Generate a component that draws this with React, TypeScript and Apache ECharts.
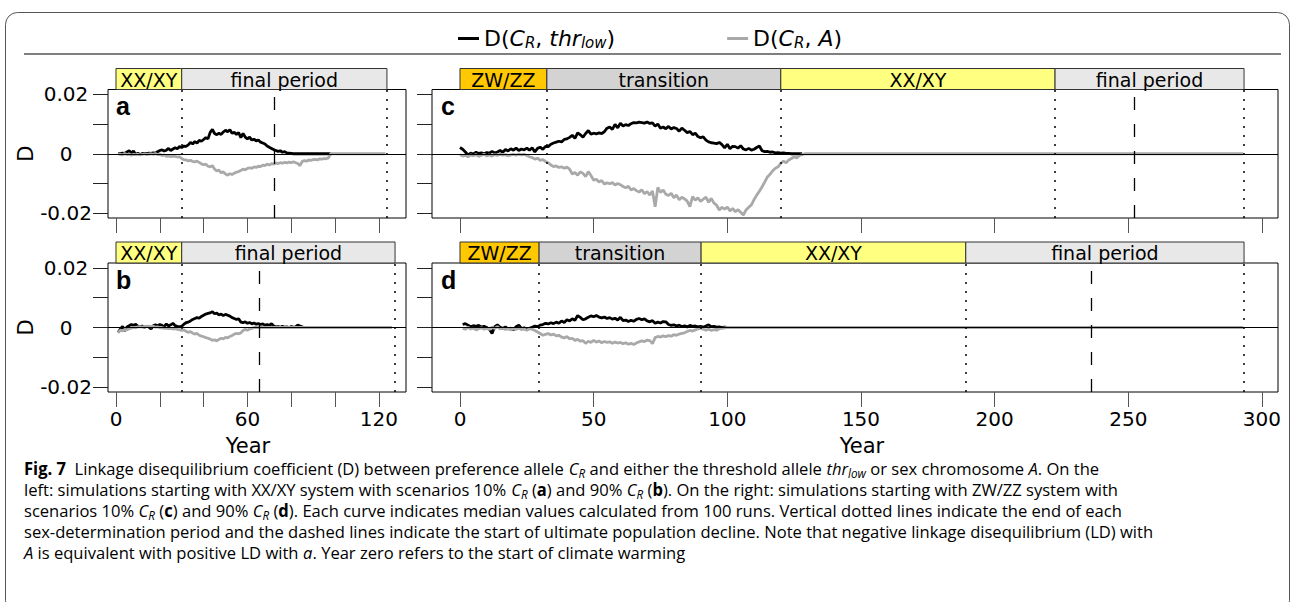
import { useEffect, useRef } from "react";
import * as echarts from "echarts";

const FONT = "DejaVu Sans";
const CAP_FONT = "Open Sans";
const LETTER_FONT = "Liberation Sans";

// ---- axes ----
const yTicks = [-0.02, -0.01, 0, 0.01, 0.02];
const yTickLabels = [-0.02, 0, 0.02];
const yLimits = [-0.0216, 0.0216];

const leftXTicks = [0, 20, 40, 60, 80, 100, 120];
const leftXTickLabels = [0, 60, 120];
const leftXLimits = [-3.65, 132.4];
const rightXTicks = [0, 50, 100, 150, 200, 250, 300];
const rightXTickLabels = [0, 50, 100, 150, 200, 250, 300];
const rightXLimits = [-10.47, 306.0];

// ---- sex-determination periods ----
const periodStartYear = 0;
const leftPeriodNames = ["XX/XY", "final period"];
const leftPeriodColors = ["#FFFF80", "#E8E8E8"];
const rightPeriodNames = ["ZW/ZZ", "transition", "XX/XY", "final period"];
const rightPeriodColors = ["#FFC800", "#D3D3D3", "#FFFF80", "#E8E8E8"];

const aPeriodEnds = [30, 123.7];
const bPeriodEnds = [30, 127.4];
const cPeriodEnds = [32.5, 120, 222.6, 293.3];
const dPeriodEnds = [29.6, 90.2, 189.2, 293.3];

const aDeclineYear = 72.1;
const bDeclineYear = 65.3;
const cDeclineYear = 252.1;
const dDeclineYear = 236;

// ---- median D values (in units of 0.001), one per year ----
const aThrFirstYear = 1;
const aThrLastYear = 98;
const aThr = [
  0.1, 0.0, 0.2, 0.1, 0.6, 1.0, 0.3, 0.9, -0.3, 0.2,
  -0.4, 0.1, 0.1, 0.0, 0.2, 0.1, 0.3, 0.2, 0.7, 1.1,
  1.3, 0.9, 1.2, 1.8, 1.1, 1.6, 2.0, 1.7, 2.4, 2.1,
  2.6, 2.5, 3.0, 3.8, 3.3, 4.1, 3.6, 4.5, 4.2, 4.8,
  5.4, 5.0, 7.2, 8.2, 6.8, 6.4, 6.9, 6.5, 7.3, 7.9,
  7.4, 8.1, 6.9, 7.2, 6.5, 7.1, 5.4, 6.8, 5.6, 5.0,
  5.6, 4.6, 4.9, 4.3, 4.6, 3.9, 3.6, 3.3, 2.6, 2.2,
  1.8, 1.4, 1.1, 0.8, 1.0, 0.5, 0.7, 0.3, 0.2, 0.1, 0.0,
];
const aAFirstYear = 1;
const aALastYear = 123;
const aA = [
  0.0, -0.2, -0.4, 0.1, -0.3, -0.1, -0.5, -0.2, -0.3, -0.1,
  -0.4, -0.2, 0.0, -0.3, -0.1, 0.0, -0.2, 0.1, -0.3, -0.2,
  -0.6, -0.4, -0.9, -0.7, -1.0, -0.8, -0.9, -1.1, -1.0, -1.6,
  -2.0, -2.1, -2.4, -2.2, -2.6, -2.7, -2.5, -2.9, -3.4, -3.7,
  -3.5, -4.2, -4.4, -4.0, -5.1, -5.8, -5.5, -6.4, -6.1, -6.8,
  -7.2, -6.7, -7.0, -6.5, -6.2, -6.0, -5.6, -5.2, -5.4, -4.9,
  -4.7, -4.9, -4.4, -4.6, -4.2, -4.3, -3.8, -4.0, -3.5, -3.8,
  -3.3, -3.5, -3.1, -3.3, -3.0, -3.2, -2.9, -3.1, -2.8, -3.0,
  -2.7, -3.0, -3.3, -4.0, -2.6, -2.3, -2.5, -2.1, -2.2, -2.0,
  -1.9, -2.1, -1.7, -1.8, -1.6, -1.7, -1.4, 0.0,
];

const bThrFirstYear = 1;
const bThrLastYear = 98;
const bThr = [
  -1.7, -0.5, 0.4, -1.1, 0.2, 0.6, 1.0, 0.7, 1.1, 0.4,
  0.3, 0.5, 0.1, 0.4, 0.2, -0.5, 0.6, 0.9, 0.5, 1.0,
  0.7, 0.3, 1.2, 0.5, 0.9, 1.4, 0.6, 0.4, 0.3, 0.4,
  1.1, 1.6, 1.8, 2.2, 2.7, 3.0, 3.3, 3.1, 3.7, 4.1,
  4.5, 4.7, 4.9, 5.3, 4.6, 4.8, 4.2, 4.5, 4.0, 4.4,
  4.1, 3.8, 3.3, 3.0, 2.7, 2.9, 1.8, 1.6, 1.9, 1.4,
  1.7, 1.2, 1.5, 1.1, 1.3, 1.0, 1.2, 0.8, 1.0, 0.7,
  1.3, 0.5, 0.2, 0.3, 0.1, 0.4, 0.1, 0.2, 0.0, 0.3,
  0.1, 0.2, 0.8, 0.5, 0.2, 0.0,
];
const bAFirstYear = 1;
const bALastYear = 126;
const bA = [
  -1.7, -0.9, -1.1, -0.6, -0.8, -0.4, -0.2, 0.0, -0.1, 0.2,
  0.3, 0.1, 0.4, 0.3, 0.5, 0.2, 0.4, 0.1, 0.2, -0.1,
  0.0, -0.3, -0.2, -0.4, -0.3, -0.5, -0.4, -0.6, -0.7, -1.0,
  -0.8, -1.3, -1.6, -1.4, -1.9, -2.2, -2.0, -2.6, -2.9, -3.1,
  -3.4, -3.6, -3.9, -4.3, -4.1, -4.5, -4.0, -3.6, -3.8, -3.3,
  -3.5, -3.0, -2.7, -2.2, -2.0, -2.1, -1.8, -1.0, -0.6, -0.9,
  -0.5, -0.3, 0.0,
];

const cThrFirstYear = 0;
const cThrLastYear = 128;
const cThr = [
  2.1, 1.5, 0.6, -0.4, 0.2, -0.1, 0.5, 0.1, 0.3, 0.0,
  0.4, 0.2, 0.8, 0.3, 0.6, 1.1, 0.5, 1.4, 0.9, 1.7,
  1.2, 1.9, 1.1, 1.6, 1.3, 1.9, 1.2, 2.0, 0.6, 1.8,
  2.2, 1.5, 2.5, 2.4, 3.2, 3.6, 3.9, 4.2, 4.0, 4.8,
  5.0, 5.5, 6.2, 5.2, 7.0, 6.4, 5.6, 6.8, 7.8, 6.6,
  6.9, 6.7, 7.0, 6.8, 7.4, 8.6, 9.0, 8.2, 9.9, 8.7,
  10.3, 9.3, 9.8, 9.5, 10.1, 10.5, 10.4, 10.6, 10.5, 10.3,
  10.7, 10.2, 10.4, 9.3, 10.0, 8.6, 9.0, 8.4, 9.2, 8.3,
  8.8, 8.5, 7.6, 8.6, 7.9, 7.1, 7.5, 6.4, 6.9, 5.8,
  5.4, 5.7, 4.6, 4.0, 3.7, 3.6, 3.4, 3.8, 3.1, 2.0,
  3.2, 1.7, 2.5, 2.4, 1.9, 2.7, 1.6, 1.3, 1.8, 1.2,
  1.5, 2.1, 2.6, 1.0, 0.7, 0.8, 0.5, 0.6, 0.3, 0.4,
  0.2, 0.3, 0.1, 0.1, 0.0,
];
const cAFirstYear = 0;
const cALastYear = 293;
const cA = [
  -0.3, -0.8, -0.5, -1.0, -0.4, -0.7, -0.3, -0.9, -0.5, -0.2,
  -0.7, -0.4, -0.8, -0.3, -0.6, -0.2, -0.5, -0.3, -0.7, -0.4,
  -0.2, -0.5, -0.1, -0.4, -0.2, -0.6, -1.0, -1.3, -1.8, -1.5,
  -2.2, -2.0, -2.6, -3.0, -3.8, -4.3, -4.1, -4.6, -4.4, -4.9,
  -4.5, -5.2, -6.8, -6.3, -7.2, -6.1, -6.6, -7.7, -6.0, -7.3,
  -8.9, -8.6, -9.5, -9.0, -10.2, -9.8, -10.1, -9.7, -10.5, -10.0,
  -10.4, -11.0, -11.4, -10.9, -12.2, -11.7, -12.4, -12.9, -12.1, -13.4,
  -12.7, -13.9, -12.5, -17.8, -11.3, -13.0, -12.2, -13.6, -14.0, -13.3,
  -14.8, -13.9, -15.5, -14.6, -15.2, -15.9, -17.8, -14.4, -15.6, -14.8,
  -16.0, -15.3, -14.6, -16.3, -15.0, -16.6, -17.3, -18.9, -18.0, -18.6,
  -17.9, -19.2, -18.4, -19.5, -18.8, -19.7, -20.6, -18.9, -18.0, -17.2,
  -15.4, -13.9, -12.6, -11.1, -9.5, -7.8, -6.9, -5.7, -4.9, -4.4,
  -3.2, -2.5, -3.0, -2.1, -1.6, -1.0, -1.4, -0.6, -0.3, 0.0,
];

const dThrFirstYear = 1;
const dThrLastYear = 101;
const dThr = [
  1.0, 1.3, 0.8, 0.3, 0.6, 0.4, 0.7, 0.2, 0.4, 0.0,
  -0.6, -2.0, 0.3, 0.9, 0.1, -0.3, 0.2, -0.5, -0.2, -0.8,
  0.3, 0.8, -0.4, -0.1, -0.6, -0.3, 0.1, 0.5, 0.3, 0.8,
  1.0, 1.4, 1.2, 1.6, 1.3, 1.8, 1.4, 2.2, 1.7, 2.6,
  2.2, 2.9, 2.4, 4.0, 3.4, 2.6, 2.9, 3.4, 3.9, 3.6,
  4.0, 3.5, 3.2, 3.5, 3.0, 3.3, 2.8, 3.1, 2.5, 3.4,
  2.3, 2.5, 2.0, 2.4, 2.1, 2.7, 3.0, 2.6, 2.9, 2.2,
  1.9, 2.3, 1.4, 1.8, 1.5, 2.0, 1.9, 1.0, 0.7, 0.9,
  0.5, 0.8, 0.3, 0.6, 0.2, 0.7, 0.4, 0.5, 0.2, 0.4,
  0.1, 0.5, 0.9, 0.3, 0.4, 0.1, 0.2, 0.0, 0.1, 0.0,
];
const dAFirstYear = 1;
const dALastYear = 293;
const dA = [
  -0.3, -0.6, 0.1, -0.5, -0.2, -0.8, -0.4, -0.1, -0.6, -0.3,
  -0.7, 0.2, -0.4, 0.3, -0.5, -0.2, -0.7, -0.3, -0.8, -0.4,
  -0.6, -0.2, -0.7, -0.5, -0.9, -0.4, -0.6, -1.0, -1.5, -2.0,
  -2.6, -2.3, -2.0, -2.5, -2.2, -2.8, -2.6, -3.2, -3.5, -3.0,
  -3.8, -3.6, -4.3, -4.0, -4.6, -4.4, -5.3, -4.6, -5.0, -4.3,
  -4.9, -4.5, -5.1, -4.7, -5.0, -4.8, -5.3, -4.9, -5.2, -5.0,
  -5.4, -5.1, -5.6, -5.3, -5.7, -5.2, -4.8, -4.5, -4.7, -4.2,
  -4.4, -5.4, -3.4, -3.0, -3.2, -2.8, -3.1, -2.7, -2.9, -2.4,
  -2.6, -2.2, -2.0, -1.8, -1.3, -1.0, -1.2, -0.8, -0.5, -0.2,
  -0.6, -0.9, -0.5, -1.0, -0.7, -0.9, -0.4, -0.3, -0.1, 0.0,
];

const THR_NAME = "D(CR, thrlow)";
const A_NAME = "D(CR, A)";

const captionLines = [
  "{b|Fig. 7}{n|  Linkage disequilibrium coefficient (D) between preference allele }{i|C}{s|R}{n| and either the threshold allele }{i|thr}{s|low}{n| or sex chromosome }{i|A}{n|. On the}",
  "{n|left: simulations starting with XX/XY system with scenarios 10% }{i|C}{s|R}{n| (}{b|a}{n|) and 90% }{i|C}{s|R}{n| (}{b|b}{n|). On the right: simulations starting with ZW/ZZ system with}",
  "{n|scenarios 10% }{i|C}{s|R}{n| (}{b|c}{n|) and 90% }{i|C}{s|R}{n| (}{b|d}{n|). Each curve indicates median values calculated from 100 runs. Vertical dotted lines indicate the end of each}",
  "{n|sex-determination period and the dashed lines indicate the start of ultimate population decline. Note that negative linkage disequilibrium (LD) with}",
  "{i|A}{n| is equivalent with positive LD with }{i|a}{n|. Year zero refers to the start of climate warming}",
];

function toPairs(first: number, values: number[], last: number) {
  const pts = values.map((v, i) => [first + i, v / 1000]);
  const end = first + values.length - 1;
  if (last > end) pts.push([last, 0]);
  return pts;
}

const BAR_H = 21;

const panels = [
  {
    letter: "a", side: "left", xLabels: false,
    box: { left: 108, top: 89.5, width: 298, height: 128.5 },
    thr: toPairs(aThrFirstYear, aThr, aThrLastYear),
    A: toPairs(aAFirstYear, aA, aALastYear),
    ends: aPeriodEnds, decline: aDeclineYear,
  },
  {
    letter: "c", side: "right", xLabels: false,
    box: { left: 432, top: 89.5, width: 846, height: 128.5 },
    thr: toPairs(cThrFirstYear, cThr, cThrLastYear),
    A: toPairs(cAFirstYear, cA, cALastYear),
    ends: cPeriodEnds, decline: cDeclineYear,
  },
  {
    letter: "b", side: "left", xLabels: true,
    box: { left: 108, top: 263, width: 298, height: 129 },
    thr: toPairs(bThrFirstYear, bThr, bThrLastYear),
    A: toPairs(bAFirstYear, bA, bALastYear),
    ends: bPeriodEnds, decline: bDeclineYear,
  },
  {
    letter: "d", side: "right", xLabels: true,
    box: { left: 432, top: 263, width: 846, height: 129 },
    thr: toPairs(dThrFirstYear, dThr, dThrLastYear),
    A: toPairs(dAFirstYear, dA, dALastYear),
    ends: dPeriodEnds, decline: dDeclineYear,
  },
];

function buildOption() {
  const grid = panels.map((p) => ({
    ...p.box,
    show: true,
    borderColor: "#000",
    borderWidth: 1,
    backgroundColor: "transparent",
  }));

  const xAxis = panels.map((p, i) => {
    const L = p.side === "left";
    return {
      type: "value",
      gridIndex: i,
      min: L ? leftXLimits[0] : rightXLimits[0],
      max: L ? leftXLimits[1] : rightXLimits[1],
      axisLine: { show: false, onZero: false },
      splitLine: { show: false },
      axisTick: {
        show: true,
        length: 15,
        customValues: L ? leftXTicks : rightXTicks,
        lineStyle: { color: "#555", width: 1 },
      },
      axisLabel: {
        show: p.xLabels,
        customValues: L ? leftXTickLabels : rightXTickLabels,
        margin: 17,
        fontSize: 20,
        color: "#000",
        fontFamily: FONT,
      },
    };
  });

  const yAxis = panels.map((p, i) => {
    const L = p.side === "left";
    return {
      type: "value",
      gridIndex: i,
      min: yLimits[0],
      max: yLimits[1],
      axisLine: { show: false, onZero: false },
      splitLine: { show: false },
      axisTick: {
        show: true,
        length: 15,
        customValues: yTicks,
        lineStyle: { color: "#222", width: 1 },
      },
      axisLabel: {
        show: L,
        customValues: yTickLabels,
        formatter: (v: number) => (v === 0 ? "0" : v.toFixed(2)),
        align: "center",
        margin: 42,
        fontSize: 20,
        color: "#000",
        fontFamily: FONT,
      },
      name: L ? "D" : "",
      nameLocation: "middle",
      nameRotate: 90,
      nameGap: 62,
      nameTextStyle: { fontSize: 21, color: "#000", fontFamily: FONT },
    };
  });

  const series: any[] = [];
  panels.forEach((p, i) => {
    const L = p.side === "left";
    const names = L ? leftPeriodNames : rightPeriodNames;
    const colors = L ? leftPeriodColors : rightPeriodColors;
    series.push({
      type: "custom",
      name: "periods",
      xAxisIndex: i,
      yAxisIndex: i,
      clip: false,
      silent: true,
      z: 4,
      encode: { x: [0, 1], y: 2 },
      data: p.ends.map((e, k) => [k === 0 ? periodStartYear : p.ends[k - 1], e, 0]),
      renderItem: (params: any, api: any) => {
        const idx = params.dataIndex;
        const p0 = api.coord([api.value(0), 0]);
        const p1 = api.coord([api.value(1), 0]);
        const top = params.coordSys.y - BAR_H;
        return {
          type: "group",
          children: [
            {
              type: "rect",
              shape: { x: p0[0], y: top, width: p1[0] - p0[0], height: BAR_H },
              style: { fill: colors[idx], stroke: "#333", lineWidth: 1 },
            },
            {
              type: "text",
              style: {
                text: names[idx],
                x: (p0[0] + p1[0]) / 2,
                y: top + BAR_H / 2 + 0.5,
                align: "center",
                verticalAlign: "middle",
                fontSize: 19,
                fontFamily: FONT,
                fill: "#000",
              },
            },
          ],
        };
      },
    });
    series.push({
      type: "line",
      name: THR_NAME,
      xAxisIndex: i,
      yAxisIndex: i,
      data: p.thr,
      symbol: "none",
      showSymbol: false,
      lineStyle: { color: "#000", width: 2.8 },
      itemStyle: { color: "#000" },
      z: 2,
    });
    series.push({
      type: "line",
      name: A_NAME,
      xAxisIndex: i,
      yAxisIndex: i,
      data: p.A,
      symbol: "none",
      showSymbol: false,
      lineStyle: { color: "#A9A9A9", width: 2.8 },
      itemStyle: { color: "#A9A9A9" },
      z: 3,
      markLine: {
        silent: true,
        symbol: ["none", "none"],
        label: { show: false },
        data: [
          ...p.ends.map((e) => ({
            xAxis: e,
            lineStyle: { type: [2, 7], color: "#000", width: 1.5 },
          })),
          { xAxis: p.decline, lineStyle: { type: [13, 14], color: "#000", width: 1.3 } },
          { yAxis: 0, lineStyle: { type: "solid", color: "#000", width: 1 } },
        ],
      },
    });
  });

  const legendRich = {
    n: { fontSize: 22, fontFamily: FONT, color: "#000", lineHeight: 24 },
    i: { fontSize: 22, fontFamily: FONT, fontStyle: "italic", color: "#000", lineHeight: 24 },
    s: { fontSize: 15, fontFamily: FONT, fontStyle: "italic", color: "#000", lineHeight: 15, padding: [8, 0, 0, 0] },
  };

  const CAP_SIZE = 17;
  const capRich = {
    n: { fontSize: CAP_SIZE, fontFamily: CAP_FONT, color: "#231F20", lineHeight: 21 },
    b: { fontSize: CAP_SIZE, fontFamily: CAP_FONT, fontWeight: "bold", color: "#231F20", lineHeight: 21 },
    i: { fontSize: CAP_SIZE, fontFamily: CAP_FONT, fontStyle: "italic", color: "#231F20", lineHeight: 21 },
    s: { fontSize: 12, fontFamily: CAP_FONT, fontStyle: "italic", color: "#231F20", lineHeight: 12, padding: [9, 0, 0, 0] },
  };

  const letterPos = [
    { t: "a", x: 116, y: 106 },
    { t: "c", x: 441, y: 106 },
    { t: "b", x: 116, y: 280 },
    { t: "d", x: 441, y: 280 },
  ];

  const graphic: any[] = [
    {
      type: "rect",
      silent: true,
      shape: { x: 5.5, y: 12.5, width: 1284, height: 600, r: 12 },
      style: { fill: "none", stroke: "#555", lineWidth: 1 },
    },
    {
      type: "line",
      silent: true,
      shape: { x1: 24, y1: 54, x2: 1281, y2: 54 },
      style: { stroke: "#555", lineWidth: 1.5 },
    },
    ...letterPos.map((l) => ({
      type: "text",
      silent: true,
      x: l.x,
      y: l.y,
      style: {
        text: l.t,
        fontSize: 25,
        fontWeight: "bold",
        fontFamily: LETTER_FONT,
        fill: "#000",
        verticalAlign: "middle",
      },
    })),
    ...[248, 862].map((cx) => ({
      type: "text",
      silent: true,
      x: cx,
      y: 446,
      style: {
        text: "Year",
        fontSize: 21,
        fontFamily: FONT,
        fill: "#000",
        align: "center",
        verticalAlign: "middle",
      },
    })),
    ...captionLines.map((line, k) => ({
      type: "text",
      silent: true,
      x: 24,
      y: 468 + k * 21,
      scaleX: 0.975,
      style: {
        text: line,
        rich: capRich,
        verticalAlign: "middle",
        fontSize: CAP_SIZE,
        fontFamily: CAP_FONT,
      },
    })),
  ];

  return {
    animation: false,
    backgroundColor: "#fff",
    textStyle: { fontFamily: FONT },
    grid,
    xAxis,
    yAxis,
    series,
    legend: {
      data: [
        { name: THR_NAME, icon: "rect" },
        { name: A_NAME, icon: "rect" },
      ],
      left: 453,
      top: 22,
      itemWidth: 21,
      itemHeight: 3,
      itemGap: 112,
      selectedMode: false,
      formatter: (name: string) =>
        name === THR_NAME
          ? "{n|D(}{i|C}{s|R}{n|, }{i|thr}{s|low}{n|)}"
          : "{n|D(}{i|C}{s|R}{n|, }{i|A}{n|)}",
      textStyle: { rich: legendRich, fontSize: 22, fontFamily: FONT },
    },
    graphic,
  };
}

export default function App() {
  const ref = useRef<HTMLDivElement>(null);
  useEffect(() => {
    if (!ref.current) return;
    const chart = echarts.init(ref.current, null, { renderer: "svg" });
    chart.setOption(buildOption() as any);
    return () => chart.dispose();
  }, []);
  return (
    <div
      ref={ref}
      style={{ position: "fixed", left: 0, top: 0, width: 1296, height: 602, background: "#fff" }}
    />
  );
}
